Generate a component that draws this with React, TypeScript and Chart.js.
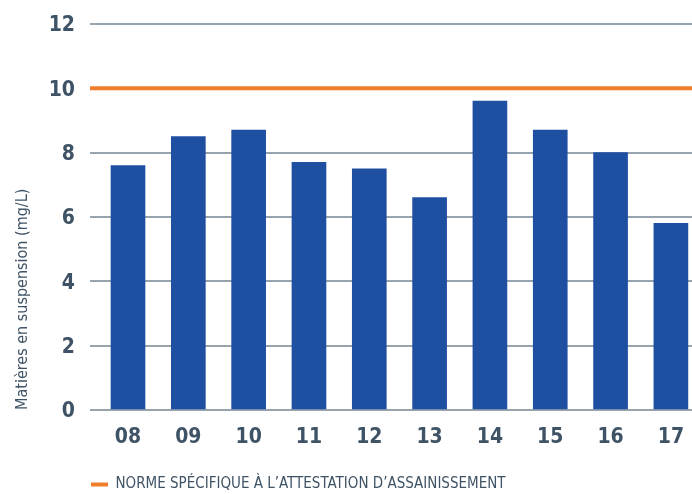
import React, { useEffect, useRef } from "react";
import { Chart, registerables } from "chart.js";

Chart.register(...registerables);

const years = ["08", "09", "10", "11", "12", "13", "14", "15", "16", "17"];
const suspendedSolids = [7.6, 8.5, 8.7, 7.7, 7.5, 6.6, 9.6, 8.7, 8.0, 5.8];
const standardValue = 10;
const standardLabel = "NORME SPÉCIFIQUE À L’ATTESTATION D’ASSAINISSEMENT";
const yAxisTitle = "Matières en suspension (mg/L)";
const yTicks = [0, 2, 4, 6, 8, 10, 12];

const X_MIN = -0.63;
const X_MAX = 9.35;

const FONT = "'Liberation Sans Narrow', 'DejaVu Sans Condensed', 'Roboto', sans-serif";
const TEXT = "#3f5366";
const BLUE = "#1f4fa1";
const ORANGE = "#f07d2c";
const GRID = "#97a3ad";

const legendShift = {
  id: "legendShift",
  beforeDraw(chart: any) {
    const lg = chart.legend;
    if (!lg) return;
    const h = lg.height;
    const w = lg.width;
    lg.left = 81;
    lg.right = 81 + w;
    lg.top = 467;
    lg.bottom = 467 + h;
  },
};

export default function App() {
  const ref = useRef<HTMLCanvasElement | null>(null);
  useEffect(() => {
    if (!ref.current) return;
    const chart = new Chart(ref.current, {
      type: "bar",
      data: {
        datasets: [
          {
            type: "bar",
            label: "Matières en suspension",
            data: suspendedSolids.map((v, i) => ({ x: i, y: v })),
            backgroundColor: BLUE,
            barThickness: 34,
            order: 2,
          } as any,
          {
            type: "line",
            label: standardLabel,
            data: [
              { x: X_MIN, y: standardValue },
              { x: X_MAX, y: standardValue },
            ],
            borderColor: ORANGE,
            backgroundColor: ORANGE,
            borderWidth: 4,
            pointRadius: 0,
            clip: false,
            order: 1,
          } as any,
        ],
      },
      options: {
        animation: false,
        responsive: false,
        maintainAspectRatio: false,
        layout: { autoPadding: false, padding: { top: 24, left: 0, right: 0, bottom: 0 } },
        plugins: {
          tooltip: { enabled: false },
          legend: {
            display: true,
            position: "bottom",
            align: "start",
            labels: {
              boxWidth: 17,
              boxHeight: 4,
              padding: 10,
              color: TEXT,
              font: { family: FONT, size: 15 },
              filter: (item: any) => item.datasetIndex === 1,
              generateLabels: (chart: any) => {
                const items = Chart.defaults.plugins.legend.labels.generateLabels(chart);
                return items.map((it: any) => ({
                  ...it,
                  fillStyle: ORANGE,
                  strokeStyle: "rgba(0,0,0,0)",
                  lineWidth: 0,
                }));
              },
            },
          },
        },
        scales: {
          x: {
            type: "linear",
            min: X_MIN,
            max: X_MAX,
            offset: false,
            grid: { display: false },
            border: { display: false },
            afterFit: (s: any) => {
              s.height = 49;
            },
            ticks: {
              stepSize: 1,
              includeBounds: false,
              autoSkip: false,
              maxRotation: 0,
              padding: 7,
              color: TEXT,
              font: { family: FONT, size: 21, weight: "bold" },
              callback: (v: any) => {
                const n = Number(v);
                return Number.isInteger(n) && years[n] !== undefined ? years[n] : "";
              },
            },
          },
          y: {
            min: 0,
            max: 12,
            afterFit: (s: any) => {
              s.width = 90;
              s.paddingTop = 0;
            },
            afterBuildTicks: (s: any) => {
              s.ticks = yTicks.map((v) => ({ value: v }));
            },
            grid: { color: GRID, lineWidth: 2, drawTicks: false },
            border: { display: false },
            ticks: {
              padding: 15,
              labelOffset: 2,
              color: TEXT,
              font: { family: FONT, size: 21, weight: "bold" },
            },
            title: {
              display: true,
              text: yAxisTitle,
              align: "start",
              color: TEXT,
              font: { family: FONT, size: 16 },
              padding: { top: 13, bottom: 0 },
            },
          },
        },
      },
      plugins: [legendShift],
    } as any);
    return () => chart.destroy();
  }, []);
  return (
    <div style={{ position: "fixed", left: 0, top: 0, width: 692, height: 494, background: "#fff" }}>
      <canvas ref={ref} width={692} height={494} style={{ display: "block", width: 692, height: 494 }} />
    </div>
  );
}
